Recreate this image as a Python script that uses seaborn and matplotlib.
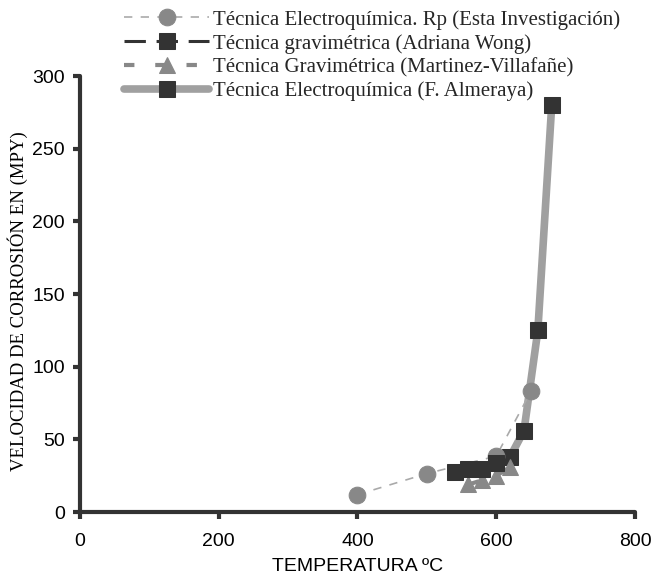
import matplotlib
matplotlib.use("Agg")
import matplotlib.pyplot as plt
import seaborn as sns

# Data
rp_x = [400, 500, 600, 650]
rp_y = [12, 26.5, 38.5, 83]

wong_x = [540, 560, 580, 600]
wong_y = [27.5, 29.5, 29.5, 33.5]

mv_x = [560, 580, 600, 620]
mv_y = [19, 22, 25, 31]

alm_x = [620, 640, 660, 680]
alm_y = [38, 56, 125, 280]

labels = [
    "Técnica Electroquímica. Rp (Esta Investigación)",
    "Técnica gravimétrica (Adriana Wong)",
    "Técnica Gravimétrica (Martinez-Villafañe)",
    "Técnica Electroquímica (F. Almeraya)",
]

xticks = [0, 200, 400, 600, 800]
yticks = [0, 50, 100, 150, 200, 250, 300]

sns.set_theme(style="white")
plt.rcParams["font.family"] = ["Liberation Sans", "DejaVu Sans"]
serif = ["Liberation Serif", "DejaVu Serif"]

fig = plt.figure(figsize=(6.54, 5.78), dpi=100)
ax = fig.add_axes([0.1223, 0.114, 0.8486, 0.7543])

dark = "#333333"
gray = "#888888"

sns.lineplot(x=alm_x, y=alm_y, ax=ax, color="#a0a0a0", linewidth=5.5,
             marker="s", markersize=11.5, markerfacecolor=dark,
             markeredgecolor=dark, label=labels[3], sort=False, zorder=2)
sns.lineplot(x=rp_x, y=rp_y, ax=ax, color="#aaaaaa", linewidth=1.2,
             linestyle=(0, (5, 5)), marker="o", markersize=12,
             markerfacecolor=gray, markeredgecolor=gray,
             label=labels[0], sort=False, zorder=3)
sns.lineplot(x=mv_x, y=mv_y, ax=ax, color=gray, linewidth=3,
             linestyle=(0, (2.5, 5)), marker="^", markersize=12,
             markerfacecolor=gray, markeredgecolor=gray,
             label=labels[2], sort=False, zorder=3)
sns.lineplot(x=wong_x, y=wong_y, ax=ax, color=dark, linewidth=2.2,
             linestyle=(0, (7, 3.5)), marker="s", markersize=11.5,
             markerfacecolor=dark, markeredgecolor=dark,
             label=labels[1], sort=False, zorder=4)

ax.set_xlim(0, 800)
ax.set_ylim(0, 300)
ax.set_xticks(xticks)
ax.set_yticks(yticks)
ax.tick_params(axis="both", which="major", labelsize=14, length=5,
               width=3, color=dark, direction="out", labelcolor="black")
ax.tick_params(axis="y", pad=6)
ax.tick_params(axis="x", pad=10)
ax.tick_params(left=True, bottom=True)
for s in ["top", "right"]:
    ax.spines[s].set_visible(False)
for s in ["left", "bottom"]:
    ax.spines[s].set_color(dark)
    ax.spines[s].set_linewidth(3)
    ax.spines[s].set_capstyle("round")

ax.set_xlabel("TEMPERATURA ºC", fontsize=14, color="black", labelpad=6)
ax.set_ylabel("VELOCIDAD DE CORROSIÓN EN (MPY)", fontsize=13.5,
              family=serif, color="black")
ax.yaxis.set_label_coords(-0.094, 0.484)

handles, labs = ax.get_legend_handles_labels()
order = [labs.index(l) for l in labels]
if ax.get_legend():
    ax.get_legend().remove()
fig.legend([handles[i] for i in order], [labs[i] for i in order],
           loc="upper left", bbox_to_anchor=(0.183, 0.99),
           frameon=False, handlelength=4.1, handletextpad=0.2,
           labelspacing=0.2, borderaxespad=0, borderpad=0.2,
           prop={"family": serif, "size": 15})

fig.savefig("out.png", dpi=100)
